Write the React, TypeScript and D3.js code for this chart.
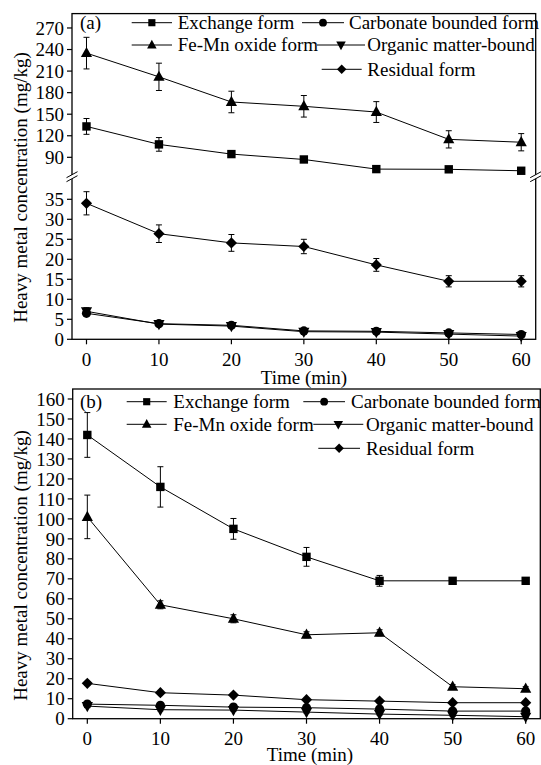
import React, { useEffect, useRef } from 'react';
import * as d3 from 'd3';

// time points (min)
const times = [0, 10, 20, 30, 40, 50, 60];

// panel (a)
const aExchange = [133, 108, 94.5, 87, 73.6, 73.3, 71.3];
const aExchangeErr = [11, 9.5, 3, 2.5, 2, 2, 2];
const aFeMn = [235, 202, 167, 161, 153, 115, 111];
const aFeMnErr = [22, 19, 15, 15, 14.5, 12, 12];
const aCarbonate = [6.5, 3.9, 3.5, 2.1, 2.0, 1.6, 1.2];
const aCarbonateErr = [0.5, 0.4, 0.4, 0.3, 0.3, 0.3, 0.3];
const aOrganic = [7.0, 3.8, 3.3, 1.9, 1.8, 1.3, 0.8];
const aOrganicErr = [0.9, 0.4, 0.4, 0.3, 0.3, 0.3, 0.3];
const aResidual = [34, 26.4, 24.1, 23.2, 18.6, 14.5, 14.5];
const aResidualErr = [2.9, 2.2, 2.1, 1.8, 1.6, 1.4, 1.4];

// panel (b)
const bExchange = [142, 116, 95, 81, 69, 69, 69];
const bExchangeErr = [11.2, 10.1, 5.2, 4.7, 2.7, 1.5, 1.5];
const bFeMn = [101, 57, 50, 42, 43, 16, 15];
const bFeMnErr = [10.9, 2, 2, 1.5, 1.5, 1, 1];
const bCarbonate = [7.3, 6.7, 5.8, 5.5, 4.8, 3.8, 3.8];
const bOrganic = [6.3, 4.5, 4.3, 3.3, 2.3, 1.7, 1.0];
const bResidual = [17.7, 13.0, 11.8, 9.5, 8.8, 8.0, 8.0];
const bSmallErr = [0.8, 0.6, 0.6, 0.5, 0.5, 0.5, 0.5];

// tick labels
const aUpperTicks = [90, 120, 150, 180, 210, 240, 270];
const aLowerTicks = [0, 5, 10, 15, 20, 25, 30, 35];
const bTicks = [0, 10, 20, 30, 40, 50, 60, 70, 80, 90, 100, 110, 120, 130, 140, 150, 160];

const legendNames = ['Exchange form', 'Carbonate bounded form', 'Fe-Mn oxide form', 'Organic matter-bound', 'Residual form'];
const legendMarkers = ['square', 'circle', 'up', 'down', 'diamond'];

const FONT = '"Liberation Serif", "Times New Roman", serif';
const YLABEL = 'Heavy metal concentration (mg/kg)';

const markerPath = (type: string, s = 1) => {
  switch (type) {
    case 'square': { const r = 4.2 * s; return `M${-r},${-r}H${r}V${r}H${-r}Z`; }
    case 'circle': return d3.symbol(d3.symbolCircle, Math.PI * 4.6 * 4.6 * s * s)()!;
    case 'up': return `M0,${-6.2 * s}L${5.6 * s},${4 * s}L${-5.6 * s},${4 * s}Z`;
    case 'down': return `M0,${6.2 * s}L${5.6 * s},${-4 * s}L${-5.6 * s},${-4 * s}Z`;
    default: { const r = 5.6 * s; return `M0,${-r}L${r},0L0,${r}L${-r},0Z`; }
  }
};

const App = () => {
  const svgRef = useRef<SVGSVGElement>(null);

  useEffect(() => {
    const svg = d3.select(svgRef.current);
    svg.selectAll('*').remove();

    // draw a series: error bars, line, markers
    const drawSeries = (g: any, x: any, y: any, values: number[], errs: number[] | null, type: string) => {
      const pts = times.map((t, i) => ({ t, v: values[i], e: errs ? errs[i] : 0 }));
      g.append('path')
        .datum(pts)
        .attr('fill', 'none')
        .attr('stroke', '#000')
        .attr('stroke-width', 1)
        .attr('d', d3.line<any>().x(d => x(d.t)).y(d => y(d.v)));
      if (errs) {
        const eb = g.append('g').attr('stroke', '#000').attr('stroke-width', 1);
        pts.forEach(d => {
          const cx = x(d.t);
          eb.append('line').attr('x1', cx).attr('x2', cx).attr('y1', y(d.v + d.e)).attr('y2', y(d.v - d.e));
          eb.append('line').attr('x1', cx - 3).attr('x2', cx + 3).attr('y1', y(d.v + d.e)).attr('y2', y(d.v + d.e));
          eb.append('line').attr('x1', cx - 3).attr('x2', cx + 3).attr('y1', y(d.v - d.e)).attr('y2', y(d.v - d.e));
        });
      }
      g.selectAll(null)
        .data(pts)
        .enter()
        .append('path')
        .attr('d', markerPath(type))
        .attr('fill', '#000')
        .attr('transform', (d: any) => `translate(${x(d.t)},${y(d.v)})`);
    };

    const yTicks = (g: any, y: any, ticks: number[], left: number) => {
      ticks.forEach(t => {
        g.append('line').attr('x1', left - 5).attr('x2', left).attr('y1', y(t)).attr('y2', y(t))
          .attr('stroke', '#000').attr('stroke-width', 1.2);
        g.append('text').attr('x', left - 8).attr('y', y(t)).attr('dy', '0.35em')
          .attr('text-anchor', 'end').text(t);
      });
    };

    const xTicks = (g: any, x: any, bottom: number, labelY: number) => {
      times.forEach(t => {
        g.append('line').attr('x1', x(t)).attr('x2', x(t)).attr('y1', bottom).attr('y2', bottom + 5)
          .attr('stroke', '#000').attr('stroke-width', 1.2);
        g.append('text').attr('x', x(t)).attr('y', labelY).attr('text-anchor', 'middle').text(t);
      });
    };

    const legend = (g: any, items: { i: number; x1: number; x2: number; tx: number; y: number }[]) => {
      items.forEach(it => {
        g.append('line').attr('x1', it.x1).attr('x2', it.x2).attr('y1', it.y).attr('y2', it.y)
          .attr('stroke', '#000').attr('stroke-width', 1);
        g.append('path').attr('d', markerPath(legendMarkers[it.i], 0.85)).attr('fill', '#000')
          .attr('transform', `translate(${(it.x1 + it.x2) / 2},${it.y})`);
        g.append('text').attr('x', it.tx).attr('y', it.y).attr('dy', '0.34em').text(legendNames[it.i]);
      });
    };

    const root = svg.append('g').attr('font-family', FONT).attr('font-size', 19).attr('fill', '#000');

    // ---------- panel (a) ----------
    const aLeft = 72, aRight = 535.7, aTop = 13.6, aBottom = 339.3, aBreak = 176.7;
    const xA = d3.scaleLinear().domain([-2, 62]).range([aLeft, aRight]);
    const yAU = d3.scaleLinear().domain([64, 290]).range([176, aTop]);
    const yAL = d3.scaleLinear().domain([0, 40]).range([aBottom, 179.3]);
    const ga = root.append('g');

    ga.append('rect').attr('x', aLeft).attr('y', aTop).attr('width', aRight - aLeft).attr('height', aBottom - aTop)
      .attr('fill', 'none').attr('stroke', '#000').attr('stroke-width', 1.3);

    drawSeries(ga, xA, yAU, aFeMn, aFeMnErr, 'up');
    drawSeries(ga, xA, yAU, aExchange, aExchangeErr, 'square');
    drawSeries(ga, xA, yAL, aResidual, aResidualErr, 'diamond');
    drawSeries(ga, xA, yAL, aCarbonate, aCarbonateErr, 'circle');
    drawSeries(ga, xA, yAL, aOrganic, aOrganicErr, 'down');

    yTicks(ga, yAU, aUpperTicks, aLeft);
    yTicks(ga, yAL, aLowerTicks, aLeft);
    xTicks(ga, xA, aBottom, 365.5);

    // axis break marks
    [aLeft, aRight].forEach(bx => {
      ga.append('path')
        .attr('d', `M${bx - 5.5},${aBreak + 1}L${bx + 5.5},${aBreak - 5}L${bx + 5.5},${aBreak - 1}L${bx - 5.5},${aBreak + 5}Z`)
        .attr('fill', '#fff');
      ga.append('line').attr('x1', bx - 5.5).attr('y1', aBreak + 1).attr('x2', bx + 5.5).attr('y2', aBreak - 5)
        .attr('stroke', '#000').attr('stroke-width', 1);
      ga.append('line').attr('x1', bx - 5.5).attr('y1', aBreak + 5).attr('x2', bx + 5.5).attr('y2', aBreak - 1)
        .attr('stroke', '#000').attr('stroke-width', 1);
    });

    ga.append('text').attr('x', 80).attr('y', 22.7).attr('dy', '0.34em').text('(a)');
    legend(ga, [
      { i: 0, x1: 131.7, x2: 172, tx: 177.7, y: 22.7 },
      { i: 1, x1: 302, x2: 344, tx: 349, y: 22.7 },
      { i: 2, x1: 131.7, x2: 172, tx: 177.7, y: 45 },
      { i: 3, x1: 317, x2: 365, tx: 367.3, y: 45 },
      { i: 4, x1: 321.7, x2: 361.7, tx: 367.3, y: 69.3 },
    ]);

    ga.append('text').attr('x', 304).attr('y', 383.5).attr('text-anchor', 'middle').text('Time (min)');
    ga.append('text').attr('transform', 'translate(26.5,187.5) rotate(-90)').attr('text-anchor', 'middle').text(YLABEL);

    // ---------- panel (b) ----------
    const bLeft = 72.7, bRight = 540.3, bTop = 389, bBottom = 718.7;
    const xB = d3.scaleLinear().domain([-2, 62]).range([bLeft, bRight]);
    const yB = d3.scaleLinear().domain([0, 165]).range([bBottom, bTop]);
    const gb = root.append('g');

    gb.append('rect').attr('x', bLeft).attr('y', bTop).attr('width', bRight - bLeft).attr('height', bBottom - bTop)
      .attr('fill', 'none').attr('stroke', '#000').attr('stroke-width', 1.3);

    drawSeries(gb, xB, yB, bExchange, bExchangeErr, 'square');
    drawSeries(gb, xB, yB, bFeMn, bFeMnErr, 'up');
    drawSeries(gb, xB, yB, bResidual, bSmallErr, 'diamond');
    drawSeries(gb, xB, yB, bCarbonate, bSmallErr, 'circle');
    drawSeries(gb, xB, yB, bOrganic, bSmallErr, 'down');

    yTicks(gb, yB, bTicks, bLeft);
    xTicks(gb, xB, bBottom, 744.5);

    gb.append('text').attr('x', 80).attr('y', 401.7).attr('dy', '0.34em').text('(b)');
    legend(gb, [
      { i: 0, x1: 126.7, x2: 166.7, tx: 173.3, y: 401.7 },
      { i: 1, x1: 303.3, x2: 345, tx: 351, y: 401.7 },
      { i: 2, x1: 126.7, x2: 166.7, tx: 173.3, y: 424.3 },
      { i: 3, x1: 313.3, x2: 363.3, tx: 366, y: 424.3 },
      { i: 4, x1: 318.3, x2: 360, tx: 366, y: 448.3 },
    ]);

    gb.append('text').attr('x', 310).attr('y', 761).attr('text-anchor', 'middle').text('Time (min)');
    gb.append('text').attr('transform', 'translate(26.5,565.5) rotate(-90)').attr('text-anchor', 'middle').text(YLABEL);
  }, []);

  return (
    <svg ref={svgRef} width={541} height={765}
      style={{ position: 'absolute', left: 0, top: 0, background: '#fff' }} />
  );
};

export default App;
